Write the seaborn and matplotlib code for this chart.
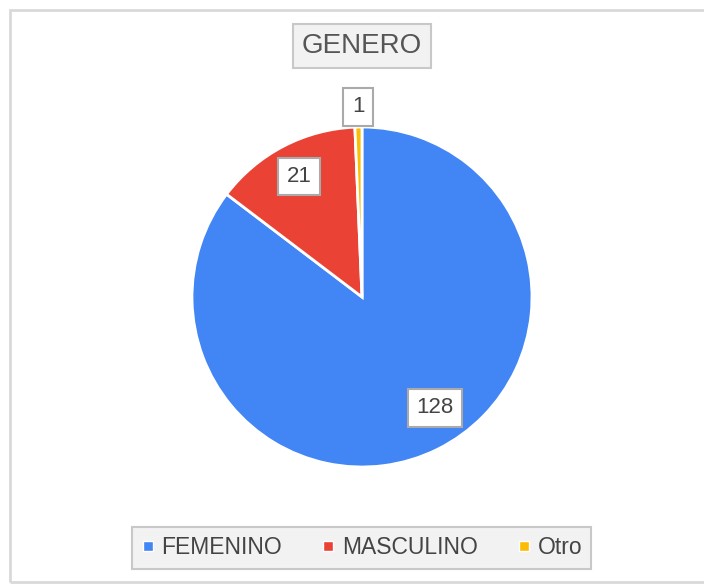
import matplotlib
matplotlib.use('Agg')
import matplotlib.pyplot as plt
import seaborn as sns
import numpy as np
from matplotlib.lines import Line2D
from matplotlib.patches import Rectangle

# data
categories = ['FEMENINO', 'MASCULINO', 'Otro']
counts = [128, 21, 1]
title = 'GENERO'

colors = ['#4285F4', '#EA4335', '#FBBC04']

sns.set_theme(style='white')
plt.rcParams['font.family'] = ['Liberation Sans', 'DejaVu Sans']

W, H = 704, 584
fig = plt.figure(figsize=(W / 100, H / 100), dpi=100)
fig.patch.set_facecolor('white')

# pie centre and radius in pixels
cx, cy, r = 362, 297, 170
ax = fig.add_axes([0, 0, 1, 1])
wedges, _ = ax.pie(counts, colors=colors, startangle=90, counterclock=False,
                   radius=1, wedgeprops=dict(edgecolor='white', linewidth=2))
ax.set_aspect('auto')
ax.set_xlim(-cx / r, (W - cx) / r)
ax.set_ylim(-(H - cy) / r, cy / r)
ax.axis('off')

# value labels
label_dist = [0.78, 0.80, 1.12]
label_shift = [7, 0, 0]
for w, n, d, s in zip(wedges, counts, label_dist, label_shift):
    ang = np.deg2rad((w.theta1 + w.theta2) / 2 + s)
    ax.text(d * np.cos(ang), d * np.sin(ang), str(n), ha='center', va='center',
            fontsize=16, color='#444444',
            bbox=dict(boxstyle='square,pad=0.38', facecolor='white',
                      edgecolor='#aaaaaa', linewidth=1.5))

# title box
fig.text(362 / W, 1 - 46 / H, title, ha='center', va='center', fontsize=20,
         color='#555555',
         bbox=dict(boxstyle='square,pad=0.32', facecolor='#f2f2f2',
                   edgecolor='#c8c8c8', linewidth=1.5))

# legend
handles = [Line2D([], [], marker='s', linestyle='', markersize=7,
                  markerfacecolor=c, markeredgecolor='white', markeredgewidth=1)
           for c in colors]
leg = fig.legend(handles, categories, loc='center',
                 bbox_to_anchor=(361.5 / W, 1 - 548 / H), ncol=3,
                 frameon=True, fancybox=False, framealpha=1,
                 edgecolor='#c8c8c8', facecolor='#f2f2f2', fontsize=16.5,
                 handlelength=0.6, handletextpad=0.3, columnspacing=1.7,
                 borderpad=0.4, borderaxespad=0)
leg.get_frame().set_linewidth(1.5)
for t in leg.get_texts():
    t.set_color('#444444')

# outer chart border
fig.patches.append(Rectangle((10 / W, 1 - 582 / H), (W + 10) / W, (582 - 10) / H,
                             transform=fig.transFigure, fill=False,
                             edgecolor='#d9d9d9', linewidth=2))

fig.savefig('out.png', dpi=100)
